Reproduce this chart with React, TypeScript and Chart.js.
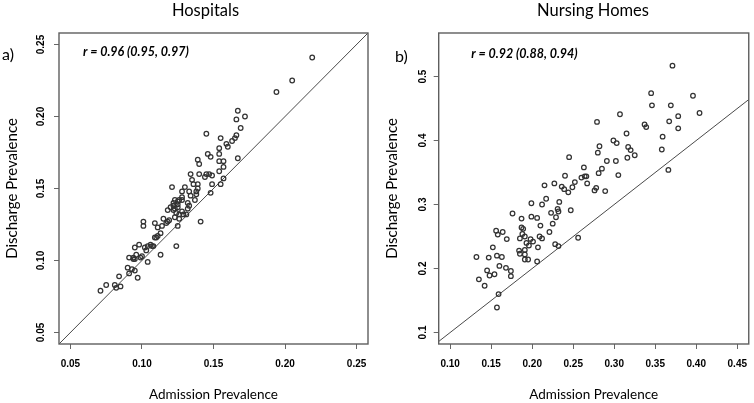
import React, { useEffect, useRef } from "react";
import { Chart, registerables } from "chart.js";

Chart.register(...registerables);

// ---------- Data ----------
const hospAdmission = [
  0.219, 0.205, 0.194, 0.167, 0.172, 0.166, 0.169, 0.145, 0.155, 0.166,
  0.165, 0.163, 0.159, 0.16, 0.154, 0.167, 0.139, 0.146, 0.148, 0.154,
  0.14, 0.154, 0.157, 0.157, 0.154, 0.134, 0.14, 0.145, 0.147, 0.149,
  0.144, 0.157, 0.135, 0.13, 0.121, 0.136, 0.139, 0.149, 0.155, 0.128,
  0.133, 0.139, 0.138, 0.148, 0.134, 0.128, 0.137, 0.123, 0.126, 0.128,
  0.122, 0.125, 0.132, 0.118, 0.12, 0.123, 0.122, 0.125, 0.128, 0.132,
  0.129, 0.131, 0.123, 0.126, 0.126, 0.141, 0.101, 0.101, 0.109, 0.115,
  0.118, 0.117, 0.111, 0.114, 0.125, 0.113, 0.11, 0.111, 0.109, 0.104,
  0.102, 0.107, 0.108, 0.124, 0.095, 0.098, 0.103, 0.096, 0.1, 0.113,
  0.091, 0.094, 0.095, 0.099, 0.104, 0.09, 0.093, 0.095, 0.091, 0.097,
  0.084, 0.075, 0.081, 0.085, 0.082, 0.071, 0.125, 0.124, 0.133, 0.122,
  0.138, 0.119, 0.106, 0.094,
];
const hospDischarge = [
  0.241, 0.225, 0.217, 0.204, 0.2, 0.198, 0.192, 0.188, 0.185, 0.187,
  0.185, 0.183, 0.181, 0.179, 0.178, 0.171, 0.17, 0.174, 0.172, 0.174,
  0.167, 0.169, 0.169, 0.165, 0.162, 0.16, 0.16, 0.16, 0.16, 0.159,
  0.158, 0.157, 0.156, 0.151, 0.151, 0.153, 0.153, 0.153, 0.153, 0.148,
  0.148, 0.15, 0.148, 0.147, 0.145, 0.144, 0.142, 0.142, 0.142, 0.142,
  0.14, 0.139, 0.14, 0.135, 0.137, 0.136, 0.135, 0.137, 0.134, 0.136,
  0.132, 0.132, 0.13, 0.129, 0.132, 0.127, 0.127, 0.124, 0.126, 0.129,
  0.127, 0.126, 0.123, 0.124, 0.124, 0.119, 0.116, 0.117, 0.116, 0.11,
  0.109, 0.11, 0.11, 0.11, 0.109, 0.111, 0.107, 0.104, 0.103, 0.104,
  0.102, 0.102, 0.101, 0.102, 0.099, 0.095, 0.094, 0.093, 0.091, 0.088,
  0.089, 0.083, 0.083, 0.082, 0.081, 0.079, 0.141, 0.133, 0.138, 0.138,
  0.146, 0.128, 0.111, 0.101,
];

const nhAdmission = [
  0.371, 0.345, 0.396, 0.346, 0.369, 0.404, 0.307, 0.378, 0.279, 0.367,
  0.337, 0.339, 0.378, 0.315, 0.359, 0.299, 0.303, 0.282, 0.317, 0.358,
  0.32, 0.28, 0.325, 0.316, 0.245, 0.291, 0.302, 0.263, 0.285, 0.366,
  0.281, 0.305, 0.24, 0.264, 0.266, 0.26, 0.252, 0.267, 0.227, 0.215,
  0.236, 0.249, 0.239, 0.244, 0.278, 0.276, 0.289, 0.217, 0.199, 0.212,
  0.233, 0.176, 0.223, 0.231, 0.232, 0.247, 0.199, 0.206, 0.187, 0.229,
  0.225, 0.21, 0.187, 0.189, 0.156, 0.164, 0.158, 0.188, 0.191, 0.221,
  0.256, 0.169, 0.185, 0.198, 0.209, 0.212, 0.201, 0.193, 0.228, 0.232,
  0.196, 0.207, 0.152, 0.184, 0.191, 0.185, 0.191, 0.132, 0.157, 0.163,
  0.147, 0.191, 0.195, 0.206, 0.16, 0.168, 0.145, 0.174, 0.154, 0.135,
  0.148, 0.174, 0.142, 0.159, 0.157,
];
const nhDischarge = [
  0.517, 0.474, 0.47, 0.455, 0.455, 0.443, 0.441, 0.438, 0.429, 0.43,
  0.425, 0.421, 0.419, 0.411, 0.406, 0.4, 0.396, 0.391, 0.39, 0.386,
  0.385, 0.381, 0.377, 0.373, 0.374, 0.368, 0.368, 0.358, 0.356, 0.354,
  0.349, 0.346, 0.345, 0.344, 0.344, 0.342, 0.335, 0.333, 0.333, 0.33,
  0.328, 0.327, 0.324, 0.319, 0.326, 0.322, 0.321, 0.309, 0.302, 0.3,
  0.304, 0.286, 0.287, 0.293, 0.289, 0.291, 0.281, 0.279, 0.278, 0.28,
  0.27, 0.267, 0.264, 0.262, 0.259, 0.257, 0.253, 0.254, 0.25, 0.257,
  0.248, 0.246, 0.247, 0.246, 0.25, 0.247, 0.242, 0.24, 0.238, 0.235,
  0.236, 0.233, 0.233, 0.228, 0.229, 0.223, 0.222, 0.218, 0.22, 0.218,
  0.217, 0.214, 0.214, 0.211, 0.204, 0.201, 0.197, 0.196, 0.191, 0.183,
  0.189, 0.188, 0.173, 0.16, 0.139,
];

const hospTickValues = [0.05, 0.1, 0.15, 0.2, 0.25];
const hospTickLabels = ["0.05", "0.10", "0.15", "0.20", "0.25"];
const nhXTickValues = [0.1, 0.15, 0.2, 0.25, 0.3, 0.35, 0.4, 0.45];
const nhXTickLabels = ["0.10", "0.15", "0.20", "0.25", "0.30", "0.35", "0.40", "0.45"];
const nhYTickValues = [0.1, 0.2, 0.3, 0.4, 0.5];
const nhYTickLabels = ["0.1", "0.2", "0.3", "0.4", "0.5"];
const identityLine = [0, 1];

// ---------- Plugins ----------
const boxPlugin = {
  id: "panelBox",
  afterDatasetsDraw(chart: any) {
    const { ctx, chartArea: a } = chart;
    ctx.save();
    ctx.strokeStyle = "#5e5e5e";
    ctx.lineWidth = 1.4;
    ctx.strokeRect(a.left, a.top, a.right - a.left, a.bottom - a.top);
    ctx.restore();
  },
};

const textPlugin = {
  id: "panelText",
  afterDraw(chart: any, _args: any, opts: any) {
    const { ctx } = chart;
    ctx.save();
    ctx.fillStyle = "#000";
    ctx.textBaseline = "middle";
    ctx.textAlign = "center";
    ctx.font = "16.5px Lato, 'Open Sans', sans-serif";
    ctx.fillText(opts.title, opts.titleX, 11);
    ctx.textAlign = "left";
    ctx.font = "16px Lato, 'Open Sans', sans-serif";
    ctx.fillText(opts.tag, opts.tagX, opts.tagY);
    ctx.font = "italic bold 12.5px Lato, 'Open Sans', sans-serif";
    ctx.fillText(opts.r, opts.rX, opts.rY);
    ctx.restore();
  },
};

const tickFont = { family: "'Liberation Sans', Arial, sans-serif", size: 10, weight: "bold" as const };
const gridOpts = { drawOnChartArea: false, drawTicks: true, tickLength: 5, color: "#666", lineWidth: 1 };

function makeConfig(p: any) {
  return {
    type: "scatter" as const,
    data: {
      datasets: [
        {
          data: p.xs.map((x: number, i: number) => ({ x, y: p.ys[i] })),
          showLine: false,
          pointRadius: 2.3,
          pointBorderWidth: 1.25,
          pointBorderColor: "#333",
          pointBackgroundColor: "rgba(0,0,0,0)",
        },
        {
          data: identityLine.map((v) => ({ x: v, y: v })),
          showLine: true,
          borderColor: "#4a4a4a",
          borderWidth: 1,
          pointRadius: 0,
          clip: 0,
        },
      ],
    },
    options: {
      animation: false,
      responsive: false,
      maintainAspectRatio: false,
      events: [],
      layout: { padding: { top: 33, left: 0, right: p.padRight, bottom: 0 } },
      plugins: {
        legend: { display: false },
        tooltip: { enabled: false },
        panelText: p.text,
      },
      scales: {
        x: {
          type: "linear",
          position: "bottom",
          min: p.xMin,
          max: p.xMax,
          afterBuildTicks: (s: any) => {
            s.ticks = p.xTicks.map((v: number) => ({ value: v }));
          },
          afterFit: (s: any) => {
            s.height = 59;
            s.paddingLeft = 0;
            s.paddingRight = 0;
          },
          ticks: {
            autoSkip: false,
            minRotation: 0,
            maxRotation: 0,
            padding: 9,
            color: "#000",
            font: tickFont,
            callback: (_v: any, i: number) => p.xLabels[i],
          },
          grid: gridOpts,
          border: { display: false },
          title: {
            display: true,
            text: "Admission Prevalence",
            color: "#000",
            font: { family: "Lato, 'Open Sans', sans-serif", size: 13.5 },
            padding: { top: 0, bottom: 0 },
          },
        },
        y: {
          type: "linear",
          min: p.yMin,
          max: p.yMax,
          afterBuildTicks: (s: any) => {
            s.ticks = p.yTicks.map((v: number) => ({ value: v }));
          },
          afterFit: (s: any) => {
            s.width = p.yWidth;
            s.paddingTop = 0;
            s.paddingBottom = 0;
          },
          ticks: {
            autoSkip: false,
            minRotation: 90,
            maxRotation: 90,
            crossAlign: "center",
            padding: 3,
            color: "#000",
            font: tickFont,
            callback: (_v: any, i: number) => p.yLabels[i],
          },
          grid: gridOpts,
          border: { display: false },
          title: {
            display: true,
            text: "Discharge Prevalence",
            color: "#000",
            font: { family: "Lato, 'Open Sans', sans-serif", size: 15 },
            padding: { top: p.yTitlePad, bottom: 0 },
          },
        },
      },
    },
    plugins: [boxPlugin, textPlugin],
  };
}

export default function App() {
  const leftRef = useRef<HTMLCanvasElement | null>(null);
  const rightRef = useRef<HTMLCanvasElement | null>(null);

  useEffect(() => {
    const left = new Chart(
      leftRef.current as HTMLCanvasElement,
      makeConfig({
        xs: hospAdmission,
        ys: hospDischarge,
        xMin: 0.042,
        xMax: 0.258,
        yMin: 0.042,
        yMax: 0.258,
        xTicks: hospTickValues,
        xLabels: hospTickLabels,
        yTicks: hospTickValues,
        yLabels: hospTickLabels,
        padRight: 9,
        yWidth: 59,
        yTitlePad: 3.4,
        text: { title: "Hospitals", titleX: 205.5, tag: "a)", tagX: 2, tagY: 55, r: "r = 0.96 (0.95, 0.97)", rX: 83, rY: 52 },
      }) as any
    );
    const right = new Chart(
      rightRef.current as HTMLCanvasElement,
      makeConfig({
        xs: nhAdmission,
        ys: nhDischarge,
        xMin: 0.086,
        xMax: 0.464,
        yMin: 0.082,
        yMax: 0.568,
        xTicks: nhXTickValues,
        xLabels: nhXTickLabels,
        yTicks: nhYTickValues,
        yLabels: nhYTickLabels,
        padRight: 4.3,
        yWidth: 61.7,
        yTitlePad: 6.4,
        text: { title: "Nursing Homes", titleX: 216, tag: "b)", tagX: 18, tagY: 56.5, r: "r = 0.92 (0.88, 0.94)", rX: 94.3, rY: 54 },
      }) as any
    );
    return () => {
      left.destroy();
      right.destroy();
    };
  }, []);

  return (
    <div style={{ position: "absolute", left: 0, top: 0, width: 754, height: 403, background: "#fff" }}>
      <canvas ref={leftRef} width={377} height={403} style={{ position: "absolute", left: 0, top: 0 }} />
      <canvas ref={rightRef} width={377} height={403} style={{ position: "absolute", left: 377, top: 0 }} />
    </div>
  );
}
